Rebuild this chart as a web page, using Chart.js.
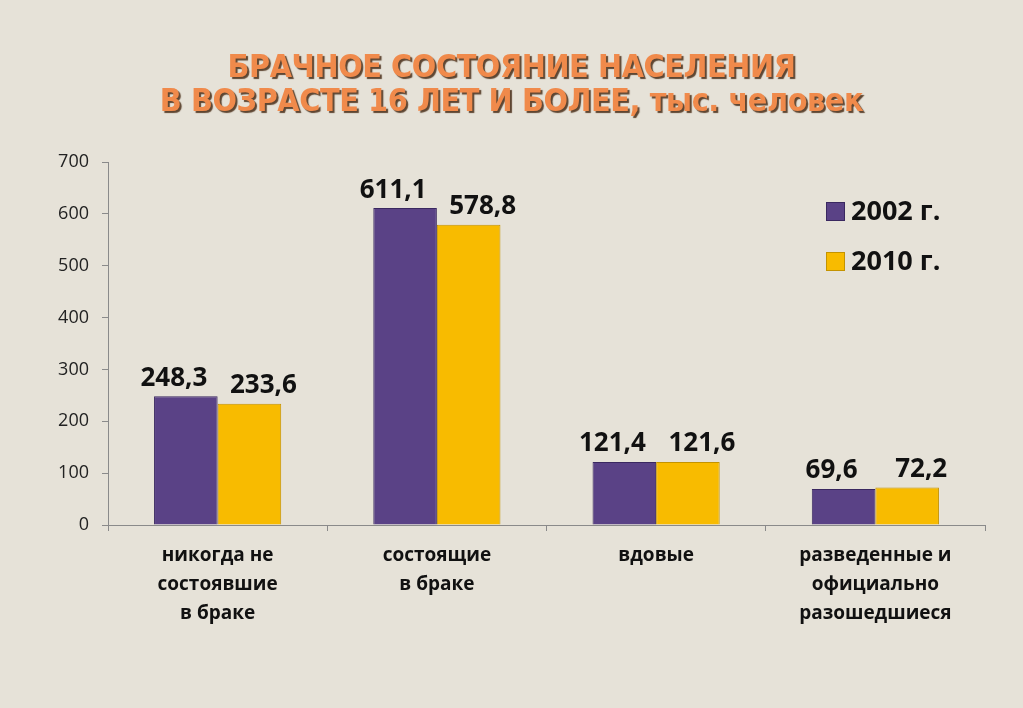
<!DOCTYPE html>
<html>
<head>
<meta charset="utf-8">
<script src="https://cdn.jsdelivr.net/npm/chart.js@4.4.0/dist/chart.umd.min.js"></script>
<style>
  html, body { margin: 0; padding: 0; background: #e6e2d8; }
  #wrap { position: relative; width: 1023px; height: 708px; }
  #title {
    position: absolute; left: 0; top: 49px; width: 1023px;
    text-align: center; color: #f08a4b;
    font: bold 32px/34px "DejaVu Sans Condensed", "DejaVu Sans", sans-serif;
    text-shadow: 2px 2px 1px #5e4632;
    letter-spacing: -0.4px;
  }
  canvas { position: absolute; left: 0; top: 0; }
</style>
</head>
<body>
<div id="wrap">
  <canvas id="chart" width="1023" height="708"></canvas>
  <div id="title">БРАЧНОЕ СОСТОЯНИЕ НАСЕЛЕНИЯ<br>В ВОЗРАСТЕ 16 ЛЕТ И БОЛЕЕ, тыс. человек</div>
</div>
<script>
// categories and values
const categories = [
  ["никогда не", "состоявшие", "в браке"],
  ["состоящие", "в браке"],
  ["вдовые"],
  ["разведенные и", "официально", "разошедшиеся"]
];
const years = ["2002 г.", "2010 г."];
const values2002 = [248.3, 611.1, 121.4, 69.6];
const values2010 = [233.6, 578.8, 121.6, 72.2];
const yTicks = [0, 100, 200, 300, 400, 500, 600, 700];

const fontFamily = '"Open Sans", "Noto Sans", sans-serif';

// value labels over the bars
const valueLabels = {
  id: "valueLabels",
  afterDatasetsDraw(chart) {
    const ctx = chart.ctx;
    ctx.save();
    ctx.font = "bold 26px " + fontFamily;
    ctx.fillStyle = "#111";
    ctx.textAlign = "center";
    ctx.textBaseline = "bottom";
    chart.data.datasets.forEach((ds, i) => {
      const meta = chart.getDatasetMeta(i);
      meta.data.forEach((bar, j) => {
        const txt = ds.data[j].toFixed(1).replace(".", ",");
        const dx = i === 0 ? -12 : 14;
        ctx.fillText(txt, bar.x + dx, bar.y - 5);
      });
    });
    ctx.restore();
  }
};

// legend in the top right corner
const cornerLegend = {
  id: "cornerLegend",
  afterDraw(chart) {
    const ctx = chart.ctx;
    ctx.save();
    chart.data.datasets.forEach((ds, i) => {
      const y = 211 + i * 50;
      ctx.fillStyle = ds.backgroundColor;
      ctx.strokeStyle = ds.borderColor;
      ctx.lineWidth = 1;
      ctx.fillRect(826, y - 9, 19, 19);
      ctx.strokeRect(826.5, y - 8.5, 18, 18);
      ctx.fillStyle = "#111";
      ctx.font = "bold 27px " + fontFamily;
      ctx.textBaseline = "middle";
      ctx.fillText(ds.label, 851, y + 1);
    });
    ctx.restore();
  }
};

new Chart(document.getElementById("chart"), {
  type: "bar",
  data: {
    labels: categories,
    datasets: [
      {
        label: years[0],
        data: values2002,
        backgroundColor: "#5a4286",
        borderColor: "#3a2860",
        borderWidth: 1
      },
      {
        label: years[1],
        data: values2010,
        backgroundColor: "#f8bb00",
        borderColor: "#c49300",
        borderWidth: 1
      }
    ]
  },
  options: {
    responsive: false,
    animation: false,
    layout: { padding: { top: 162, right: 38, left: 0, bottom: 0 } },
    categoryPercentage: 0.58,
    barPercentage: 1.0,
    scales: {
      x: {
        grid: { drawOnChartArea: false, color: "#8a8a8a", tickLength: 6 },
        border: { color: "#8a8a8a" },
        ticks: {
          color: "#111",
          font: { family: fontFamily, size: 19, weight: "bold", lineHeight: 1.53 },
          padding: 10,
          maxRotation: 0
        },
        afterFit(s) { s.height = 183; }
      },
      y: {
        min: 0,
        max: 700,
        afterBuildTicks(s) { s.ticks = yTicks.map(v => ({ value: v })); },
        grid: { drawOnChartArea: false, color: "#8a8a8a", tickLength: 6 },
        border: { color: "#8a8a8a" },
        ticks: {
          color: "#222",
          font: { family: fontFamily, size: 18 },
          padding: 13
        },
        afterFit(s) { s.width = 108; }
      }
    },
    plugins: {
      legend: { display: false },
      tooltip: { enabled: false }
    }
  },
  plugins: [valueLabels, cornerLegend]
});
</script>
</body>
</html>
